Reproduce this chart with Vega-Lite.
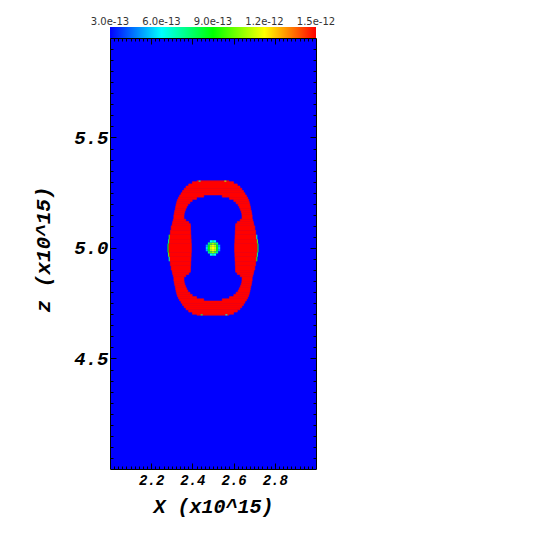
{
 "$schema": "https://vega.github.io/schema/vega-lite/v6.json",
 "width": 206, "height": 431,
 "autosize": {"type": "none"},
 "padding": {"left": 110, "top": 38, "right": 238, "bottom": 85},
 "background": "white",
 "config": {
  "view": {"stroke": null},
  "axis": {"grid": false, "domainColor": "black", "domainWidth": 1, "tickColor": "black", "tickWidth": 1, "labelColor": "black", "titleColor": "black",
           "labelFont": "Liberation Mono", "labelFontWeight": "bold", "labelFontStyle": "italic",
           "titleFont": "Liberation Mono", "titleFontWeight": "bold", "titleFontStyle": "italic",
           "labelOverlap": false, "labelFlush": false}
 },
 "datasets": {
  "background": [
   {"x0":2.0,"x1":3.0,"z0":4.0,"z1":5.95,"v":3e-13}
  ],
  "ring": [
   {"x0":2.284,"x1":2.395,"z0":4.98,"z1":5.02,"v":1.5e-12},
   {"x0":2.605,"x1":2.716,"z0":4.98,"z1":5.02,"v":1.5e-12},
   {"x0":2.287,"x1":2.394,"z0":5.02,"z1":5.04,"v":1.5e-12},
   {"x0":2.606,"x1":2.713,"z0":5.02,"z1":5.04,"v":1.5e-12},
   {"x0":2.287,"x1":2.394,"z0":4.96,"z1":4.98,"v":1.5e-12},
   {"x0":2.606,"x1":2.713,"z0":4.96,"z1":4.98,"v":1.5e-12},
   {"x0":2.290,"x1":2.393,"z0":5.04,"z1":5.06,"v":1.5e-12},
   {"x0":2.607,"x1":2.710,"z0":5.04,"z1":5.06,"v":1.5e-12},
   {"x0":2.290,"x1":2.393,"z0":4.94,"z1":4.96,"v":1.5e-12},
   {"x0":2.607,"x1":2.710,"z0":4.94,"z1":4.96,"v":1.5e-12},
   {"x0":2.293,"x1":2.392,"z0":5.06,"z1":5.08,"v":1.5e-12},
   {"x0":2.608,"x1":2.707,"z0":5.06,"z1":5.08,"v":1.5e-12},
   {"x0":2.293,"x1":2.392,"z0":4.92,"z1":4.94,"v":1.5e-12},
   {"x0":2.608,"x1":2.707,"z0":4.92,"z1":4.94,"v":1.5e-12},
   {"x0":2.297,"x1":2.391,"z0":5.08,"z1":5.10,"v":1.5e-12},
   {"x0":2.609,"x1":2.703,"z0":5.08,"z1":5.10,"v":1.5e-12},
   {"x0":2.297,"x1":2.391,"z0":4.90,"z1":4.92,"v":1.5e-12},
   {"x0":2.609,"x1":2.703,"z0":4.90,"z1":4.92,"v":1.5e-12},
   {"x0":2.302,"x1":2.390,"z0":5.10,"z1":5.11,"v":1.5e-12},
   {"x0":2.610,"x1":2.698,"z0":5.10,"z1":5.11,"v":1.5e-12},
   {"x0":2.302,"x1":2.390,"z0":4.89,"z1":4.90,"v":1.5e-12},
   {"x0":2.610,"x1":2.698,"z0":4.89,"z1":4.90,"v":1.5e-12},
   {"x0":2.304,"x1":2.382,"z0":5.11,"z1":5.12,"v":1.5e-12},
   {"x0":2.618,"x1":2.696,"z0":5.11,"z1":5.12,"v":1.5e-12},
   {"x0":2.304,"x1":2.382,"z0":4.88,"z1":4.89,"v":1.5e-12},
   {"x0":2.618,"x1":2.696,"z0":4.88,"z1":4.89,"v":1.5e-12},
   {"x0":2.307,"x1":2.368,"z0":5.12,"z1":5.13,"v":1.5e-12},
   {"x0":2.632,"x1":2.693,"z0":5.12,"z1":5.13,"v":1.5e-12},
   {"x0":2.307,"x1":2.368,"z0":4.87,"z1":4.88,"v":1.5e-12},
   {"x0":2.632,"x1":2.693,"z0":4.87,"z1":4.88,"v":1.5e-12},
   {"x0":2.310,"x1":2.359,"z0":5.13,"z1":5.15,"v":1.5e-12},
   {"x0":2.641,"x1":2.690,"z0":5.13,"z1":5.15,"v":1.5e-12},
   {"x0":2.310,"x1":2.359,"z0":4.85,"z1":4.87,"v":1.5e-12},
   {"x0":2.641,"x1":2.690,"z0":4.85,"z1":4.87,"v":1.5e-12},
   {"x0":2.312,"x1":2.360,"z0":5.15,"z1":5.16,"v":1.5e-12},
   {"x0":2.640,"x1":2.688,"z0":5.15,"z1":5.16,"v":1.5e-12},
   {"x0":2.312,"x1":2.360,"z0":4.84,"z1":4.85,"v":1.5e-12},
   {"x0":2.640,"x1":2.688,"z0":4.84,"z1":4.85,"v":1.5e-12},
   {"x0":2.314,"x1":2.363,"z0":5.16,"z1":5.17,"v":1.5e-12},
   {"x0":2.637,"x1":2.686,"z0":5.16,"z1":5.17,"v":1.5e-12},
   {"x0":2.314,"x1":2.363,"z0":4.83,"z1":4.84,"v":1.5e-12},
   {"x0":2.637,"x1":2.686,"z0":4.83,"z1":4.84,"v":1.5e-12},
   {"x0":2.317,"x1":2.367,"z0":5.17,"z1":5.18,"v":1.5e-12},
   {"x0":2.633,"x1":2.683,"z0":5.17,"z1":5.18,"v":1.5e-12},
   {"x0":2.317,"x1":2.367,"z0":4.82,"z1":4.83,"v":1.5e-12},
   {"x0":2.633,"x1":2.683,"z0":4.82,"z1":4.83,"v":1.5e-12},
   {"x0":2.319,"x1":2.372,"z0":5.18,"z1":5.19,"v":1.5e-12},
   {"x0":2.628,"x1":2.681,"z0":5.18,"z1":5.19,"v":1.5e-12},
   {"x0":2.319,"x1":2.372,"z0":4.81,"z1":4.82,"v":1.5e-12},
   {"x0":2.628,"x1":2.681,"z0":4.81,"z1":4.82,"v":1.5e-12},
   {"x0":2.321,"x1":2.378,"z0":5.19,"z1":5.20,"v":1.5e-12},
   {"x0":2.622,"x1":2.679,"z0":5.19,"z1":5.20,"v":1.5e-12},
   {"x0":2.321,"x1":2.378,"z0":4.80,"z1":4.81,"v":1.5e-12},
   {"x0":2.622,"x1":2.679,"z0":4.80,"z1":4.81,"v":1.5e-12},
   {"x0":2.324,"x1":2.388,"z0":5.20,"z1":5.21,"v":1.5e-12},
   {"x0":2.612,"x1":2.676,"z0":5.20,"z1":5.21,"v":1.5e-12},
   {"x0":2.324,"x1":2.388,"z0":4.79,"z1":4.80,"v":1.5e-12},
   {"x0":2.612,"x1":2.676,"z0":4.79,"z1":4.80,"v":1.5e-12},
   {"x0":2.327,"x1":2.399,"z0":5.21,"z1":5.22,"v":1.5e-12},
   {"x0":2.601,"x1":2.673,"z0":5.21,"z1":5.22,"v":1.5e-12},
   {"x0":2.327,"x1":2.399,"z0":4.78,"z1":4.79,"v":1.5e-12},
   {"x0":2.601,"x1":2.673,"z0":4.78,"z1":4.79,"v":1.5e-12},
   {"x0":2.332,"x1":2.420,"z0":5.22,"z1":5.23,"v":1.5e-12},
   {"x0":2.580,"x1":2.668,"z0":5.22,"z1":5.23,"v":1.5e-12},
   {"x0":2.332,"x1":2.420,"z0":4.77,"z1":4.78,"v":1.5e-12},
   {"x0":2.580,"x1":2.668,"z0":4.77,"z1":4.78,"v":1.5e-12},
   {"x0":2.338,"x1":2.455,"z0":5.23,"z1":5.24,"v":1.5e-12},
   {"x0":2.545,"x1":2.662,"z0":5.23,"z1":5.24,"v":1.5e-12},
   {"x0":2.338,"x1":2.455,"z0":4.76,"z1":4.77,"v":1.5e-12},
   {"x0":2.545,"x1":2.662,"z0":4.76,"z1":4.77,"v":1.5e-12},
   {"x0":2.345,"x1":2.655,"z0":5.24,"z1":5.25,"v":1.5e-12},
   {"x0":2.345,"x1":2.655,"z0":4.75,"z1":4.76,"v":1.5e-12},
   {"x0":2.352,"x1":2.648,"z0":5.25,"z1":5.26,"v":1.5e-12},
   {"x0":2.352,"x1":2.648,"z0":4.74,"z1":4.75,"v":1.5e-12},
   {"x0":2.360,"x1":2.640,"z0":5.26,"z1":5.27,"v":1.5e-12},
   {"x0":2.360,"x1":2.640,"z0":4.73,"z1":4.74,"v":1.5e-12},
   {"x0":2.369,"x1":2.631,"z0":5.27,"z1":5.28,"v":1.5e-12},
   {"x0":2.369,"x1":2.631,"z0":4.72,"z1":4.73,"v":1.5e-12},
   {"x0":2.382,"x1":2.618,"z0":5.28,"z1":5.29,"v":1.5e-12},
   {"x0":2.382,"x1":2.618,"z0":4.71,"z1":4.72,"v":1.5e-12},
   {"x0":2.400,"x1":2.600,"z0":5.29,"z1":5.30,"v":1.5e-12},
   {"x0":2.400,"x1":2.600,"z0":4.70,"z1":4.71,"v":1.5e-12},
   {"x0":2.422,"x1":2.578,"z0":5.30,"z1":5.304,"v":1.5e-12},
   {"x0":2.422,"x1":2.578,"z0":4.696,"z1":4.70,"v":1.5e-12}
  ],
  "detail": [
   {"x0":2.279,"x1":2.284,"z0":4.98,"z1":5.02,"v":9.0e-13},
   {"x0":2.282,"x1":2.287,"z0":5.02,"z1":5.04,"v":7.5e-13},
   {"x0":2.282,"x1":2.287,"z0":4.96,"z1":4.98,"v":1.0e-12},
   {"x0":2.285,"x1":2.290,"z0":5.04,"z1":5.06,"v":9.5e-13},
   {"x0":2.285,"x1":2.290,"z0":4.94,"z1":4.96,"v":7.0e-13},
   {"x0":2.716,"x1":2.721,"z0":4.98,"z1":5.02,"v":8.5e-13},
   {"x0":2.713,"x1":2.718,"z0":5.02,"z1":5.04,"v":1.0e-12},
   {"x0":2.713,"x1":2.718,"z0":4.96,"z1":4.98,"v":7.5e-13},
   {"x0":2.710,"x1":2.715,"z0":5.04,"z1":5.06,"v":7.0e-13},
   {"x0":2.710,"x1":2.715,"z0":4.94,"z1":4.96,"v":9.5e-13},
   {"x0":2.430,"x1":2.440,"z0":5.300,"z1":5.305,"v":7.0e-13},
   {"x0":2.555,"x1":2.565,"z0":5.300,"z1":5.305,"v":1.1e-12},
   {"x0":2.440,"x1":2.450,"z0":4.695,"z1":4.700,"v":8.0e-13},
   {"x0":2.560,"x1":2.570,"z0":4.695,"z1":4.700,"v":6.5e-13},
   {"x0":2.465,"x1":2.475,"z0":4.995,"z1":5.005,"v":5.5e-13},
   {"x0":2.475,"x1":2.485,"z0":4.995,"z1":5.005,"v":9.0e-13},
   {"x0":2.485,"x1":2.495,"z0":4.995,"z1":5.005,"v":1.15e-12},
   {"x0":2.495,"x1":2.505,"z0":4.995,"z1":5.005,"v":1.2e-12},
   {"x0":2.505,"x1":2.515,"z0":4.995,"z1":5.005,"v":1.15e-12},
   {"x0":2.515,"x1":2.525,"z0":4.995,"z1":5.005,"v":9.0e-13},
   {"x0":2.525,"x1":2.535,"z0":4.995,"z1":5.005,"v":5.5e-13},
   {"x0":2.465,"x1":2.475,"z0":5.005,"z1":5.015,"v":5.0e-13},
   {"x0":2.475,"x1":2.485,"z0":5.005,"z1":5.015,"v":8.8e-13},
   {"x0":2.485,"x1":2.495,"z0":5.005,"z1":5.015,"v":1.12e-12},
   {"x0":2.495,"x1":2.505,"z0":5.005,"z1":5.015,"v":1.18e-12},
   {"x0":2.505,"x1":2.515,"z0":5.005,"z1":5.015,"v":1.12e-12},
   {"x0":2.515,"x1":2.525,"z0":5.005,"z1":5.015,"v":8.8e-13},
   {"x0":2.525,"x1":2.535,"z0":5.005,"z1":5.015,"v":5.0e-13},
   {"x0":2.465,"x1":2.475,"z0":4.985,"z1":4.995,"v":5.0e-13},
   {"x0":2.475,"x1":2.485,"z0":4.985,"z1":4.995,"v":8.8e-13},
   {"x0":2.485,"x1":2.495,"z0":4.985,"z1":4.995,"v":1.12e-12},
   {"x0":2.495,"x1":2.505,"z0":4.985,"z1":4.995,"v":1.18e-12},
   {"x0":2.505,"x1":2.515,"z0":4.985,"z1":4.995,"v":1.12e-12},
   {"x0":2.515,"x1":2.525,"z0":4.985,"z1":4.995,"v":8.8e-13},
   {"x0":2.525,"x1":2.535,"z0":4.985,"z1":4.995,"v":5.0e-13},
   {"x0":2.475,"x1":2.485,"z0":5.015,"z1":5.025,"v":7.5e-13},
   {"x0":2.485,"x1":2.495,"z0":5.015,"z1":5.025,"v":1.0e-12},
   {"x0":2.495,"x1":2.505,"z0":5.015,"z1":5.025,"v":1.08e-12},
   {"x0":2.505,"x1":2.515,"z0":5.015,"z1":5.025,"v":1.0e-12},
   {"x0":2.515,"x1":2.525,"z0":5.015,"z1":5.025,"v":7.5e-13},
   {"x0":2.475,"x1":2.485,"z0":4.975,"z1":4.985,"v":7.5e-13},
   {"x0":2.485,"x1":2.495,"z0":4.975,"z1":4.985,"v":1.0e-12},
   {"x0":2.495,"x1":2.505,"z0":4.975,"z1":4.985,"v":1.08e-12},
   {"x0":2.505,"x1":2.515,"z0":4.975,"z1":4.985,"v":1.0e-12},
   {"x0":2.515,"x1":2.525,"z0":4.975,"z1":4.985,"v":7.5e-13},
   {"x0":2.485,"x1":2.495,"z0":5.025,"z1":5.035,"v":6.0e-13},
   {"x0":2.495,"x1":2.505,"z0":5.025,"z1":5.035,"v":7.0e-13},
   {"x0":2.505,"x1":2.515,"z0":5.025,"z1":5.035,"v":6.0e-13},
   {"x0":2.485,"x1":2.495,"z0":4.965,"z1":4.975,"v":6.0e-13},
   {"x0":2.495,"x1":2.505,"z0":4.965,"z1":4.975,"v":7.0e-13},
   {"x0":2.505,"x1":2.515,"z0":4.965,"z1":4.975,"v":6.0e-13}
  ]
 },
 "resolve": {"axis": {"x": "independent", "y": "independent"}},
 "layer": [
  {
   "data": {"name": "background"},
   "mark": {"type": "rect"},
   "encoding": {
    "x": {"field": "x0", "type": "quantitative", "scale": {"domain": [2, 3], "nice": false, "zero": false}, "axis": null},
    "x2": {"field": "x1"},
    "y": {"field": "z0", "type": "quantitative", "scale": {"domain": [4, 5.95], "nice": false, "zero": false}, "axis": null},
    "y2": {"field": "z1"},
    "color": {"field": "v", "type": "quantitative",
              "scale": {"type": "linear", "domain": [3e-13, 6e-13, 9e-13, 1.2e-12, 1.5e-12], "range": ["#0000ff", "#00ffff", "#00ff00", "#ffff00", "#ff0000"], "interpolate": "rgb", "clamp": true},
              "legend": {"type": "gradient", "orient": "none", "legendX": 0, "legendY": -11, "direction": "horizontal", "gradientLength": 206, "gradientThickness": 11,
                         "title": null, "values": [3e-13, 6e-13, 9e-13, 1.2e-12, 1.5e-12], "format": ".1e",
                         "labelAlign": "center", "labelBaseline": "middle", "labelOffset": -21, "labelFont": "DejaVu Sans", "labelFontSize": 10,
                         "labelColor": "#333333", "labelOverlap": false, "gradientStrokeWidth": 0, "padding": 0,
                         "encode": {"labels": {"update": {"align": {"value": "center"}}}}}}
   }
  },
  {
   "data": {"name": "ring"},
   "mark": {"type": "rect", "stroke": "#ff0000", "strokeWidth": 0.6},
   "encoding": {
    "x": {"field": "x0", "type": "quantitative", "scale": {"domain": [2, 3], "nice": false, "zero": false},
          "axis": {"orient": "bottom", "zindex": 1,
                   "values": [2.02,2.04,2.06,2.08,2.1,2.12,2.14,2.16,2.18,2.2,2.22,2.24,2.26,2.28,2.3,2.32,2.34,2.36,2.38,2.4,2.42,2.44,2.46,2.48,2.5,2.52,2.54,2.56,2.58,2.6,2.62,2.64,2.66,2.68,2.7,2.72,2.74,2.76,2.78,2.8,2.82,2.84,2.86,2.88,2.9,2.92,2.94,2.96,2.98],
                   "labelExpr": "round(datum.value*100) % 20 == 0 ? format(datum.value, '.1f') : ''",
                   "tickSize": {"condition": {"test": "round(datum.value*100) % 20 == 0", "value": -6}, "value": -3},
                   "labelPadding": 10, "labelFontSize": 14, "labelBaseline": "top",
                   "title": "X (x10^15)", "titleFontSize": 20, "titleX": 103, "titleY": 43, "titleBaseline": "alphabetic", "titleAlign": "center"}},
    "x2": {"field": "x1"},
    "y": {"field": "z0", "type": "quantitative", "scale": {"domain": [4, 5.95], "nice": false, "zero": false},
          "axis": {"orient": "left", "zindex": 1,
                   "values": [4.05,4.1,4.15,4.2,4.25,4.3,4.35,4.4,4.45,4.5,4.55,4.6,4.65,4.7,4.75,4.8,4.85,4.9,4.95,5,5.05,5.1,5.15,5.2,5.25,5.3,5.35,5.4,5.45,5.5,5.55,5.6,5.65,5.7,5.75,5.8,5.85,5.9],
                   "labelExpr": "round(datum.value*100) % 50 == 0 ? format(datum.value, '.1f') : ''",
                   "tickSize": {"condition": {"test": "round(datum.value*100) % 50 == 0", "value": -6}, "value": -3},
                   "labelPadding": 8, "labelFontSize": 19, "labelBaseline": "middle", "labelAlign": "right",
                   "title": "z (x10^15)", "titleFontSize": 21, "titleAngle": -90, "titleX": -61, "titleY": 211, "titleBaseline": "alphabetic", "titleAlign": "center"}},
    "y2": {"field": "z1"},
    "color": {"field": "v", "type": "quantitative",
              "scale": {"type": "linear", "domain": [3e-13, 6e-13, 9e-13, 1.2e-12, 1.5e-12], "range": ["#0000ff", "#00ffff", "#00ff00", "#ffff00", "#ff0000"], "interpolate": "rgb", "clamp": true}}
   }
  },
  {
   "data": {"name": "detail"},
   "mark": {"type": "rect"},
   "encoding": {
    "x": {"field": "x0", "type": "quantitative", "scale": {"domain": [2, 3], "nice": false, "zero": false},
          "axis": {"orient": "top", "zindex": 1, "labels": false, "title": null,
                   "values": [2.02,2.04,2.06,2.08,2.1,2.12,2.14,2.16,2.18,2.2,2.22,2.24,2.26,2.28,2.3,2.32,2.34,2.36,2.38,2.4,2.42,2.44,2.46,2.48,2.5,2.52,2.54,2.56,2.58,2.6,2.62,2.64,2.66,2.68,2.7,2.72,2.74,2.76,2.78,2.8,2.82,2.84,2.86,2.88,2.9,2.92,2.94,2.96,2.98],
                   "tickSize": {"condition": {"test": "round(datum.value*100) % 20 == 0", "value": -6}, "value": -3}}},
    "x2": {"field": "x1"},
    "y": {"field": "z0", "type": "quantitative", "scale": {"domain": [4, 5.95], "nice": false, "zero": false},
          "axis": {"orient": "right", "zindex": 1, "labels": false, "title": null,
                   "values": [4.05,4.1,4.15,4.2,4.25,4.3,4.35,4.4,4.45,4.5,4.55,4.6,4.65,4.7,4.75,4.8,4.85,4.9,4.95,5,5.05,5.1,5.15,5.2,5.25,5.3,5.35,5.4,5.45,5.5,5.55,5.6,5.65,5.7,5.75,5.8,5.85,5.9],
                   "tickSize": {"condition": {"test": "round(datum.value*100) % 50 == 0", "value": -6}, "value": -3}}},
    "y2": {"field": "z1"},
    "color": {"field": "v", "type": "quantitative",
              "scale": {"type": "linear", "domain": [3e-13, 6e-13, 9e-13, 1.2e-12, 1.5e-12], "range": ["#0000ff", "#00ffff", "#00ff00", "#ffff00", "#ff0000"], "interpolate": "rgb", "clamp": true}}
   }
  }
 ]
}
